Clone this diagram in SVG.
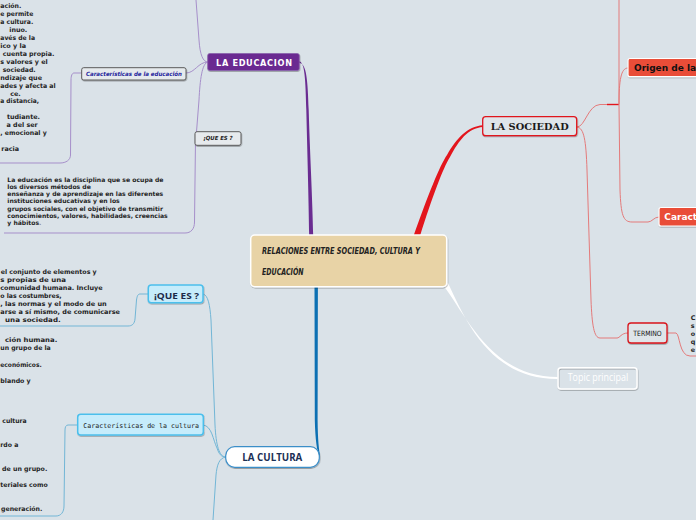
<svg xmlns="http://www.w3.org/2000/svg" width="696" height="520" viewBox="0 0 696 520">
<defs>
<filter id="sh" x="-10%" y="-20%" width="120%" height="160%">
<feDropShadow dx="0.5" dy="1" stdDeviation="0.7" flood-color="#000" flood-opacity="0.3"/>
</filter>
<style>
.bg{fill:#dae2e8}
.lav{fill:none;stroke:#a68fca;stroke-width:1}
.red{fill:none;stroke:#e47a7a;stroke-width:1}
.blu{fill:none;stroke:#72b6d6;stroke-width:1}
.body{font-family:"DejaVu Sans",Verdana,sans-serif;font-weight:bold;font-size:6.4px;fill:#1e1e1e}
.small{font-size:6.1px}
.end{text-anchor:end}
.grey{fill:#e6eaed;stroke:#5a5a5a;stroke-width:1}
.cyan{fill:#c6ecfb;stroke:#4cbfec;stroke-width:1.5}
.orng{fill:#e94e39;stroke:#ffffff;stroke-width:1.2}
</style>
</defs>
<rect class="bg" x="0" y="0" width="696" height="520"/>

<g id="connectors">
<path d="M299,61.3 C305,62 305.5,80 306.3,110 C307.3,150 308.8,200 309.2,236 L313.2,236 C312.6,200 309.8,150 308.7,110 C307.8,80 306.5,62.5 299,62.9 Z" fill="#6a2c91"/>
<path d="M314.5,287 L314.8,420 C315.3,440 317,452 319.5,456.7 L320,455.5 C319,450 317.8,440 317.6,420 L317.9,287 Z" fill="#0c70b3"/>
<path d="M413.5,236 C428,195 440,165 447,155 C457,138 467,126.6 483,125.3 L483,126.9 C468,128 459,140 450,157 C443,168 432,198 420,236 Z" fill="#e3151c"/>
<path d="M443,285 C468,318 492,377.3 558,377.1 L558,378.9 C490,379.2 466,321 448,283 Z" fill="#ffffff"/>

<path class="lav" d="M208,62 C203,62 200,55 199,40 L196,0"/>
<path class="lav" d="M186,73 C195,73 198,62 208,62"/>
<path class="lav" d="M208,62 C202,63 200,80 199,100 L196,138"/>
<path class="lav" d="M195.5,140 L194.5,222 C194.5,229 191,233 185,233 L4,233"/>
<path class="lav" d="M82,73 L74,73 C72,73 71,76 71,80 L70.5,155 C70.5,160 66,163 60,163 L0,163"/>

<path class="blu" d="M203,294 C208,295 210,305 211,320 L215,425 C216,445 219,457 226,457"/>
<path class="blu" d="M203,425 C212,426 213,440 217,448 C219,454 221,457 226,457"/>
<path class="blu" d="M226,457 C219,458 217,465 216,475 L213,520"/>
<path class="blu" d="M148,294 L140,294 C137.5,294 137,297 136.5,300 L135,319 C134.5,324 132,326 128,326 L0,326"/>
<path class="blu" d="M78,425 L68,425 C66,425 65,427 65,430 L64,506 C64,512 61,516 56,516 L0,516"/>

<path class="red" d="M577,127 C585,127 588,105 600,104.5 L607,104.5"/>
<path d="M607,104.5 L619,104.5" fill="none" stroke="#e3151c" stroke-width="1.4"/>
<path class="red" d="M619,104.5 L619,0"/>
<path class="red" d="M619,104.5 C619,80 621,68 628,68"/>
<path class="red" d="M619,104.5 L620,190 C621,215 623,222 632,222 L648,222 C652,222 654,217 659,217"/>
<path class="red" d="M577,127 C584,128 586,140 587,170 L591,300 C592,325 594,338 600,338 L617,338 C620,338 621,333 628,333"/>
<path class="red" d="M667,333 L676,333 C680,334 679,356 690,356 L696,356"/>
</g>

<g id="center">
<rect x="250.7" y="235" width="196" height="51.7" rx="4" fill="#e8d3a6" stroke="#ffffff" stroke-width="1.5" filter="url(#sh)"/>
<text x="262" y="254.3" font-family="'DejaVu Sans',sans-serif" font-style="italic" font-weight="bold" font-size="8" fill="#222" textLength="158" lengthAdjust="spacingAndGlyphs">RELACIONES ENTRE SOCIEDAD, CULTURA Y</text>
<text x="262" y="275" font-family="'DejaVu Sans',sans-serif" font-style="italic" font-weight="bold" font-size="8" fill="#222" textLength="41.6" lengthAdjust="spacingAndGlyphs">EDUCACIÓN</text>
</g>

<g id="la-educacion">
<rect x="207.7" y="53.5" width="91.6" height="17" rx="2" fill="#6a2c91" stroke="#8a62ab" stroke-width="0.8" filter="url(#sh)"/>
<text x="216" y="66" font-family="'DejaVu Sans',Verdana,sans-serif" font-weight="bold" font-size="8.2" fill="#ffffff" textLength="76" lengthAdjust="spacing">LA EDUCACION</text>
</g>

<g id="caracteristicas-educacion">
<rect class="grey" x="81.7" y="67.7" width="104.3" height="12.3" rx="2" filter="url(#sh)"/>
<text x="86" y="75.8" font-family="'DejaVu Sans',Verdana,sans-serif" font-weight="bold" font-style="italic" font-size="5.8" fill="#23239c" textLength="96" lengthAdjust="spacingAndGlyphs">Características de la educación</text>
</g>

<g id="que-es-educacion">
<rect class="grey" x="195" y="131.7" width="46" height="13.6" rx="2" filter="url(#sh)"/>
<text x="203.3" y="140.3" font-family="'DejaVu Sans',Verdana,sans-serif" font-weight="bold" font-style="italic" font-size="5.6" fill="#222" textLength="29.4" lengthAdjust="spacingAndGlyphs">¡QUE ES ?</text>
</g>

<g id="texto-caracteristicas-educacion" class="body">
<text x="0.3" y="8" textLength="21" lengthAdjust="spacingAndGlyphs">ación.</text>
<text x="0.3" y="16" textLength="33" lengthAdjust="spacingAndGlyphs">e permite</text>
<text x="0.3" y="23.9" textLength="33" lengthAdjust="spacingAndGlyphs">a cultura.</text>
<text class="end" x="27.3" y="31.9">inuo.</text>
<text x="0.3" y="39.8" textLength="34.7" lengthAdjust="spacingAndGlyphs">avés de la</text>
<text x="0.3" y="47.8" textLength="25.7" lengthAdjust="spacingAndGlyphs">ico y la</text>
<text x="2.7" y="55.7" textLength="51.6" lengthAdjust="spacingAndGlyphs">cuenta propia.</text>
<text x="0.3" y="63.7" textLength="47.4" lengthAdjust="spacingAndGlyphs">s valores y el</text>
<text x="2.7" y="71.6" textLength="33" lengthAdjust="spacingAndGlyphs">sociedad.</text>
<text x="0.3" y="79.6" textLength="41.7" lengthAdjust="spacingAndGlyphs">ndizaje que</text>
<text x="0.3" y="87.5" textLength="55.4" lengthAdjust="spacingAndGlyphs">ades y afecta al</text>
<text class="end" x="20.7" y="95.5">ce.</text>
<text x="0.3" y="103.4" textLength="38.7" lengthAdjust="spacingAndGlyphs">a distancia,</text>
<text class="end" x="40" y="119.3">tudiante.</text>
<text class="end" x="37.7" y="127.2">a del ser</text>
<text x="0.3" y="135.2" textLength="46.4" lengthAdjust="spacingAndGlyphs">, emocional y</text>
<text class="end" x="19" y="151">racia</text>
</g>

<g id="texto-que-es-educacion" class="body small">
<text x="7.3" y="181.6">La educación es la disciplina que se ocupa de</text>
<text x="7.3" y="188.9">los diversos métodos de</text>
<text x="7.3" y="196.2">enseñanza y de aprendizaje en las diferentes</text>
<text x="7.3" y="203.4">instituciones educativas y en los</text>
<text x="7.3" y="210.7">grupos sociales, con el objetivo de transmitir</text>
<text x="7.3" y="218">conocimientos, valores, habilidades, creencias</text>
<text x="7.3" y="225.3">y hábitos<tspan fill="#8a8a8a">.</tspan></text>
</g>

<g id="la-cultura">
<rect x="225.7" y="446.7" width="93.6" height="20.6" rx="9" fill="#ffffff" stroke="#3b8ec8" stroke-width="1.2" filter="url(#sh)"/>
<text x="242.3" y="460.7" font-family="'Open Sans','DejaVu Sans',sans-serif" font-weight="bold" font-size="10.3" fill="#1b2f55" textLength="60" lengthAdjust="spacingAndGlyphs">LA CULTURA</text>
</g>

<g id="que-es-cultura">
<rect class="cyan" x="148.3" y="285" width="54.7" height="17.7" rx="3" filter="url(#sh)"/>
<text x="154" y="299.3" font-family="'Open Sans','DejaVu Sans',sans-serif" font-weight="bold" font-size="9.5" fill="#1b2a48" textLength="45" lengthAdjust="spacingAndGlyphs">¡QUE ES ?</text>
</g>

<g id="caracteristicas-cultura">
<rect class="cyan" x="77.7" y="414.3" width="125.6" height="20.7" rx="3" filter="url(#sh)"/>
<text x="83.3" y="428.3" font-family="'DejaVu Sans Mono','Liberation Mono',monospace" font-size="6.6" fill="#1d1d1d" textLength="115.7" lengthAdjust="spacingAndGlyphs">Características de la cultura</text>
</g>

<g id="texto-que-es-cultura" class="body">
<text x="0.7" y="274" textLength="96" lengthAdjust="spacingAndGlyphs">el conjunto de elementos y</text>
<text x="0.3" y="281.9" textLength="65.7" lengthAdjust="spacingAndGlyphs">s propias de una</text>
<text x="0.3" y="289.9" textLength="102.4" lengthAdjust="spacingAndGlyphs">comunidad humana. Incluye</text>
<text x="0.3" y="297.8" textLength="61.4" lengthAdjust="spacingAndGlyphs">o las costumbres,</text>
<text x="0.3" y="305.8" textLength="106.4" lengthAdjust="spacingAndGlyphs">, las normas y el modo de un</text>
<text x="0.3" y="313.7" textLength="119.7" lengthAdjust="spacingAndGlyphs">arse a sí mismo, de comunicarse</text>
<text x="5" y="321.7" textLength="55.7" lengthAdjust="spacingAndGlyphs">una sociedad.</text>
</g>

<g id="texto-caracteristicas-cultura" class="body">
<text x="5" y="342.3" textLength="52.3" lengthAdjust="spacingAndGlyphs">ción humana.</text>
<text x="0.3" y="350.4" textLength="50.4" lengthAdjust="spacingAndGlyphs">un grupo de la</text>
<text x="0.3" y="366.5" textLength="41.4" lengthAdjust="spacingAndGlyphs">económicos.</text>
<text x="0.3" y="382.6" textLength="30.4" lengthAdjust="spacingAndGlyphs">blando y</text>
<text x="2.3" y="422.8" textLength="24.4" lengthAdjust="spacingAndGlyphs">cultura</text>
<text x="0.3" y="446.9" textLength="18" lengthAdjust="spacingAndGlyphs">rdo a</text>
<text x="2" y="471.1" textLength="45.3" lengthAdjust="spacingAndGlyphs">de un grupo.</text>
<text x="0.3" y="487.2" textLength="47.4" lengthAdjust="spacingAndGlyphs">teriales como</text>
<text x="1" y="511.3" textLength="41.3" lengthAdjust="spacingAndGlyphs">generación.</text>
</g>

<g id="la-sociedad">
<rect x="482.7" y="116.7" width="94" height="19" rx="3" fill="#dfe5ea" stroke="#e0141e" stroke-width="1.3" filter="url(#sh)"/>
<text x="490.7" y="129.5" font-family="'DejaVu Serif','Liberation Serif',serif" font-weight="bold" font-size="9" fill="#1a1a1a" textLength="78" lengthAdjust="spacingAndGlyphs">LA SOCIEDAD</text>
</g>

<g id="origen">
<rect class="orng" x="628" y="58.5" width="80" height="18.2" rx="2" filter="url(#sh)"/>
<text x="634" y="71" font-family="'DejaVu Sans',Verdana,sans-serif" font-weight="bold" font-size="9" fill="#111">Origen de la</text>
</g>

<g id="caracteristicas-sociedad">
<rect class="orng" x="659" y="207.5" width="50" height="18.5" rx="2" filter="url(#sh)"/>
<text x="664.3" y="220.3" font-family="'DejaVu Sans',Verdana,sans-serif" font-weight="bold" font-size="9" fill="#ffffff">Caract</text>
</g>

<g id="termino">
<rect x="628" y="323" width="39" height="20" rx="3" fill="#dfe5e9" stroke="#d9141b" stroke-width="1.3" filter="url(#sh)"/>
<text x="633.3" y="335.7" font-family="'DejaVu Sans',sans-serif" font-size="7.2" fill="#111" textLength="28.4" lengthAdjust="spacingAndGlyphs">TERMINO</text>
</g>

<g id="texto-termino" class="body">
<text x="690.7" y="320">C</text>
<text x="690.7" y="328">s</text>
<text x="690.7" y="336">o</text>
<text x="690.7" y="343.8">q</text>
<text x="690.7" y="351.7">e</text>
</g>

<g id="topic-principal">
<rect x="558" y="367.7" width="79" height="21.3" rx="3" fill="none" stroke="#ffffff" stroke-width="1.5" filter="url(#sh)"/>
<text x="567.7" y="381.3" font-family="'Open Sans',Lato,sans-serif" font-size="10" fill="#ffffff" textLength="60.6" lengthAdjust="spacingAndGlyphs">Topic principal</text>
</g>
</svg>
